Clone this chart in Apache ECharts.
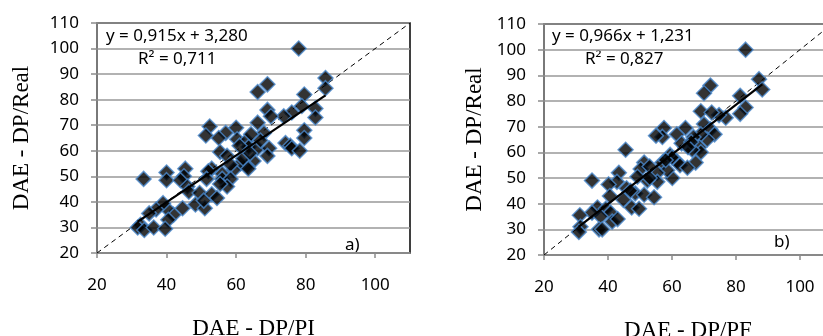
<!DOCTYPE html>
<html><head><meta charset="utf-8">
<script src="https://cdn.jsdelivr.net/npm/echarts@6/dist/echarts.min.js"></script>
<style>html,body{margin:0;padding:0;background:#fff}#c{width:823px;height:336px}</style>
</head><body><div id="c"></div>
<script>
// Panel a) DAE - DP/PI (x) vs DAE - DP/Real (y)
const pointsA = [
[78,100],[85.7,88.5],[85.7,84.5],[79.6,82],[78.9,77.5],[82.8,76.5],[82.8,73],[76,75],[73.7,73.5],
[69,76],[69,86],[66.2,83],[66.2,71],[70,73.5],[68,67],[60,69],[57,67],[52.4,69.5],[51.3,66],
[55,65],[60.3,64.5],[63,64],[64.3,66.5],[63.6,61.5],[55.4,59.5],[57.4,58],[66.2,61],[69.5,61],
[69,58],[74.2,63],[75.6,62],[76,61],[78.3,60],[79.6,68],[79.6,65],[65,56],[63.2,54],[61.3,55],
[59.3,52.5],[58.4,54.5],[56,51],[53,53],[52,52],[51.5,49],[56,49],[58.4,49],[57.4,46],[55.4,47],
[45.4,53],[45,50],[40,51.5],[40,48.5],[33.4,49],[44,48.5],[46,46],[46.4,44],[49.5,43.5],[53,43],
[54.5,41.5],[48.3,39],[51,37.5],[50.7,40.5],[44.6,37.5],[42,35],[40,37.5],[39,39.5],[37,37],
[40.5,33],[35,35.5],[32.5,31],[31.7,30],[33.6,29],[36.3,30],[39.6,29.5],[62,57],[64,59],[61,62],
[67,64],[63.5,53]
];
// Panel b) DAE - DP/PF (x) vs DAE - DP/Real (y)
const pointsB = [
[83,100],[87.2,88.5],[88.2,84.5],[81.3,82],[83,77.5],[81.3,75],[76.8,73.5],[74.7,74.5],[72,86],
[70,83],[69,76],[72.4,75.5],[70,71],[72,69],[73.3,67],[71,65],[69,67],[68.5,62],[69,60],[67.4,56],
[64.2,69.5],[61.5,67],[63,63.5],[66.7,66],[66.3,61],[57.5,69.5],[57,66],[55,66.5],[45.5,61],
[59.4,59],[57,56],[61.5,56.5],[62.5,55],[64.8,54],[60.1,50],[58.5,53],[55.4,52],[51.3,56],
[50.2,53.5],[53,54.5],[55.4,48.5],[52.3,49],[49.2,50.5],[43.4,52],[42.8,48.5],[35,49],[40.2,47.5],
[45.8,46],[48.5,44],[51.3,43.5],[54.4,42.5],[44.8,41.5],[47.4,38.5],[49.7,38],[40.6,43],[36.7,38.5],
[39.3,38],[35,36.5],[40.8,36.5],[41.3,33],[37.7,35],[31.2,35.5],[31.4,31],[30.9,29],[37.2,30],
[38.2,30],[43,34],[66,64],[60,58],[65,62],[47,45],[53,50],[58,57]
];
const eqA = {slope: 0.915, intercept: 3.280, label: 'y = 0,915x + 3,280', r2: 'R\u00B2 = 0,711', tag: 'a)'};
const eqB = {slope: 0.966, intercept: 1.231, label: 'y = 0,966x + 1,231', r2: 'R\u00B2 = 0,827', tag: 'b)'};
const xNames = ['DAE - DP/PI', 'DAE - DP/PF'];
const yName = 'DAE - DP/Real';
const xTicks = [20, 40, 60, 80, 100];
const axisRange = [20, 110];

function trend(points, eq) {
  const xs = points.map(p => p[0]);
  const x0 = Math.min(...xs), x1 = Math.max(...xs);
  return [[x0, eq.slope * x0 + eq.intercept], [x1, eq.slope * x1 + eq.intercept]];
}

const sans = 'Noto Sans';
const serif = 'Liberation Serif';
const grids = [
  {left: 97, top: 23, width: 313, height: 230},
  {left: 544, top: 24, width: 288, height: 231}
];

function xAxis(i) {
  return {
    type: 'value', gridIndex: i, min: axisRange[0], max: axisRange[1], interval: 20,
    name: xNames[i], nameLocation: 'middle', nameGap: 64,
    nameTextStyle: {fontFamily: serif, fontSize: 23, color: '#000'},
    axisLine: {show: true, lineStyle: {color: '#8c8c8c', width: 1.5}},
    axisTick: {show: true, length: 5, customValues: xTicks, lineStyle: {color: '#8c8c8c', width: 1.5}},
    axisLabel: {customValues: xTicks, fontFamily: sans, fontSize: 17, color: '#000', margin: 24},
    splitLine: {show: false}
  };
}
function yAxis(i) {
  return {
    type: 'value', gridIndex: i, min: axisRange[0], max: axisRange[1], interval: 10,
    name: yName, nameLocation: 'middle', nameGap: i === 0 ? 64 : 58, nameRotate: 90,
    nameTextStyle: {fontFamily: serif, fontSize: 23, color: '#000'},
    axisLine: {show: true, lineStyle: {color: '#8c8c8c', width: 1.5}},
    axisTick: {show: true, length: 6, lineStyle: {color: '#8c8c8c', width: 1.5}},
    axisLabel: {fontFamily: sans, fontSize: 17, color: '#000', margin: 18},
    splitLine: {show: true, lineStyle: {color: '#999', width: 1.6}}
  };
}
function scatter(i, pts) {
  return {
    type: 'scatter', xAxisIndex: i, yAxisIndex: i, data: pts, symbol: 'diamond', symbolSize: 15,
    itemStyle: {color: '#000', borderColor: '#4a88cc', borderWidth: 1.5}, z: 3
  };
}
function line(i, pts, dashed) {
  return {
    type: 'line', xAxisIndex: i, yAxisIndex: i, data: pts, symbol: 'none', silent: true,
    lineStyle: {color: '#000', width: dashed ? 1 : 2.2, type: dashed ? [5, 4] : 'solid'},
    z: dashed ? 2 : 4
  };
}
const diag = [[axisRange[0], axisRange[0]], [axisRange[1], axisRange[1]]];

const chart = echarts.init(document.getElementById('c'));
chart.setOption({
  animation: false,
  grid: grids.map(g => Object.assign({show: true, borderColor: '#000', borderWidth: 1.5, backgroundColor: 'transparent', containLabel: false, outerBoundsMode: 'none'}, g)),
  xAxis: [xAxis(0), xAxis(1)],
  yAxis: [yAxis(0), yAxis(1)],
  series: [
    line(0, diag, true), line(0, trend(pointsA, eqA), false), scatter(0, pointsA),
    line(1, diag, true), line(1, trend(pointsB, eqB), false), scatter(1, pointsB)
  ],
  graphic: [
    {type: 'text', left: 106, top: 28, style: {text: eqA.label, fontFamily: sans, fontSize: 17, fill: '#000'}},
    {type: 'text', left: 138, top: 51, style: {text: eqA.r2, fontFamily: sans, fontSize: 17, fill: '#000'}},
    {type: 'text', left: 345, top: 237, style: {text: eqA.tag, fontFamily: sans, fontSize: 17, fill: '#000'}},
    {type: 'text', left: 552, top: 28, style: {text: eqB.label, fontFamily: sans, fontSize: 17, fill: '#000'}},
    {type: 'text', left: 585, top: 51, style: {text: eqB.r2, fontFamily: sans, fontSize: 17, fill: '#000'}},
    {type: 'text', left: 774, top: 234, style: {text: eqB.tag, fontFamily: sans, fontSize: 17, fill: '#000'}}
  ]
});
</script></body></html>
